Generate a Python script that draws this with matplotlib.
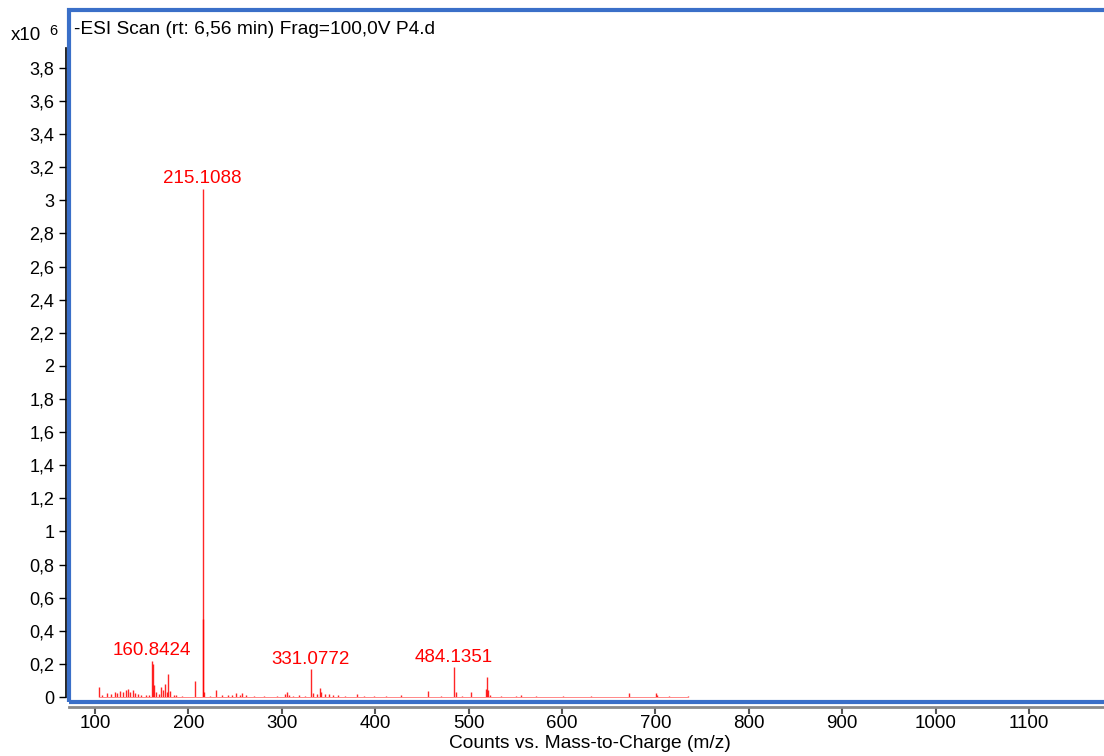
import matplotlib.pyplot as plt
from matplotlib.patches import Rectangle
from matplotlib.ticker import FixedLocator, FuncFormatter

plt.rcParams['font.family'] = ['Liberation Sans', 'DejaVu Sans']

# peak list, m/z and counts (x10^6)
mz = [104.0, 107.0, 113.0, 117.0, 121.0, 124.0, 127.0, 130.0, 133.0, 135.0,
      137.0, 141.0, 143.0, 146.0, 149.0, 155.0, 158.0, 160.84, 161.9, 163.0,
      165.0, 168.0, 171.0, 173.0, 175.0, 177.0, 178.5, 180.0, 184.0, 187.0,
      193.0, 207.0, 215.11, 216.11, 217.1, 223.0, 229.6, 236.0, 242.0, 247.0,
      251.0, 255.0, 257.0, 262.0, 270.0, 281.0, 295.0, 303.0, 305.0, 308.0,
      312.0, 318.0, 325.0, 331.08, 333.0, 338.0, 340.7, 342.0, 346.0, 351.0,
      355.0, 360.0, 368.0, 381.0, 388.0, 399.0, 411.0, 428.0, 456.0, 470.0,
      484.14, 486.1, 493.0, 502.0, 519.0, 520.1, 521.1, 523.0, 535.0, 551.0,
      556.0, 572.0, 601.0, 631.0, 672.0, 700.9, 702.0, 715.0, 735.0]
counts = [0.062, 0.015, 0.025, 0.02, 0.03, 0.022, 0.035, 0.028, 0.045, 0.05,
          0.03, 0.04, 0.025, 0.02, 0.012, 0.012, 0.015, 0.22, 0.20, 0.07,
          0.03, 0.02, 0.06, 0.045, 0.077, 0.03, 0.14, 0.035, 0.015, 0.01,
          0.008, 0.097, 3.07, 0.47, 0.03, 0.008, 0.04, 0.012, 0.015, 0.01,
          0.022, 0.012, 0.025, 0.01, 0.006, 0.006, 0.008, 0.02, 0.03, 0.012,
          0.008, 0.01, 0.008, 0.17, 0.025, 0.02, 0.053, 0.03, 0.018, 0.02,
          0.015, 0.01, 0.008, 0.02, 0.006, 0.008, 0.006, 0.01, 0.036, 0.008,
          0.18, 0.03, 0.006, 0.03, 0.05, 0.12, 0.04, 0.015, 0.006, 0.008,
          0.012, 0.004, 0.004, 0.004, 0.022, 0.026, 0.01, 0.004, 0.004]

labels = ['215.1088', '160.8424', '331.0772', '484.1351']
label_mz = [215.11, 160.84, 331.08, 484.14]
label_y = [3.07, 0.22, 0.17, 0.18]

yticks = [0, 0.2, 0.4, 0.6, 0.8, 1, 1.2, 1.4, 1.6, 1.8, 2, 2.2, 2.4, 2.6,
          2.8, 3, 3.2, 3.4, 3.6, 3.8]
xticks = [100, 200, 300, 400, 500, 600, 700, 800, 900, 1000, 1100]

W, H = 1104, 756
fig = plt.figure(figsize=(W / 100, H / 100), dpi=100)
ax = fig.add_axes([69 / W, 54 / H, 1045 / W, 692 / H])
ax.set_xlim(72.1, 1191)
ax.set_ylim(-0.03, 4.15)

ax.vlines(mz, 0, counts, color='#ff0000', lw=1.0, alpha=0.85)
ax.hlines(0.002, min(mz), max(mz), color='#ff8888', lw=0.7)

for t, xm, ym in zip(labels, label_mz, label_y):
    ax.annotate(t, (xm, ym), xytext=(0, 1), textcoords='offset points',
                ha='center', va='bottom', color='red', fontsize=13.5)

for s in ['top', 'right']:
    ax.spines[s].set_visible(False)
ax.spines['left'].set_position(('outward', 2.5))
ax.spines['left'].set_bounds(0, 3.92)
ax.spines['left'].set_linewidth(1.2)
ax.spines['bottom'].set_position(('outward', 3.5))
ax.spines['bottom'].set_color('#8a8a8a')
ax.spines['bottom'].set_linewidth(2)

ax.yaxis.set_major_locator(FixedLocator(yticks))
ax.yaxis.set_major_formatter(FuncFormatter(
    lambda v, p: ('%g' % round(v, 1)).replace('.', ',')))
ax.xaxis.set_major_locator(FixedLocator(xticks))
ax.tick_params(axis='y', length=5, width=1, labelsize=13, pad=3)
ax.tick_params(axis='x', length=5, width=1.5, color='#555555', labelsize=13.5, pad=1)

# blue frame
ax.add_patch(Rectangle((0, 0), 1, 1, transform=ax.transAxes, fill=False,
                       edgecolor='#3a6fc8', lw=3, clip_on=False, zorder=5))

ax.text(5 / 1045, 1 - 20 / 692, '-ESI Scan (rt: 6,56 min) Frag=100,0V P4.d',
        transform=ax.transAxes, fontsize=13.8, va='center', ha='left')
fig.text(11 / W, 1 - 35 / H, 'x10', fontsize=13.5, va='center', ha='left')
fig.text(49 / W, 1 - 31 / H, '6', fontsize=10.5, va='center', ha='left')
fig.text(590 / W, 1 - 743 / H, 'Counts vs. Mass-to-Charge (m/z)',
         fontsize=13.8, va='center', ha='center')

fig.savefig('out.png', dpi=100)
